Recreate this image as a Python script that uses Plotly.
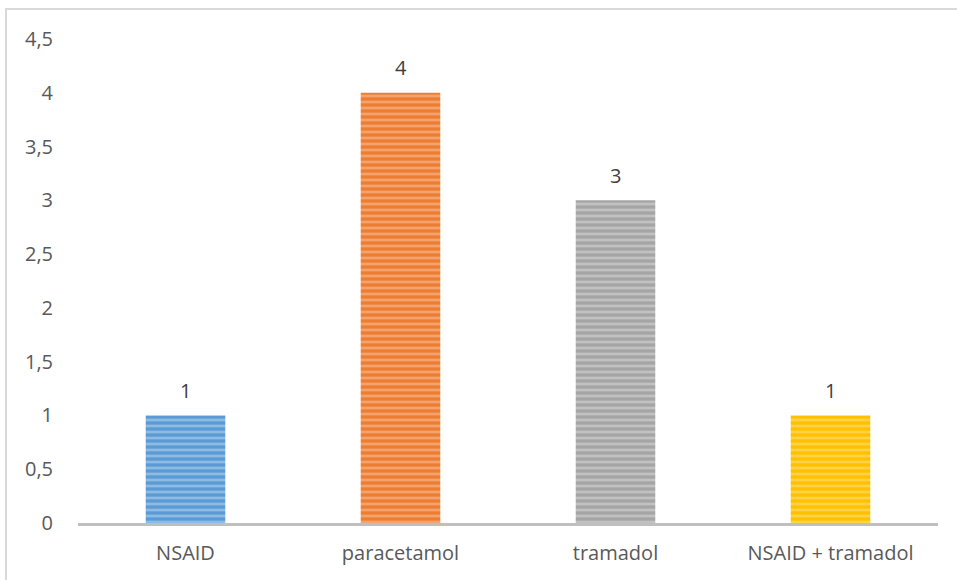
import plotly.graph_objects as go

categories = ["NSAID", "paracetamol", "tramadol", "NSAID + tramadol"]
counts = [1, 4, 3, 1]
base_colors = ["#5B9BD5", "#ED7D31", "#A5A5A5", "#FFC000"]
stripe_colors = ["#C2DAF1", "#F9CBAB", "#DEDEDE", "#FFE491"]

fig = go.Figure()
# one trace per drug so each bar gets its own striped fill
for cat, val, base, stripe in zip(categories, counts, base_colors, stripe_colors):
    fig.add_trace(go.Bar(
        x=[cat],
        y=[val],
        marker=dict(
            color=base,
            line=dict(width=0),
            pattern=dict(
                shape="-",
                fgcolor=stripe,
                fillmode="overlay",
                size=6,
                solidity=0.45,
            ),
        ),
    ))

# value labels above each bar
for cat, val in zip(categories, counts):
    fig.add_annotation(
        x=cat, y=val, text=str(val),
        showarrow=False, yanchor="middle", yshift=25,
        font=dict(family="Open Sans", size=20, color="#404040"),
    )

fig.update_layout(
    width=957,
    height=580,
    margin=dict(l=78, r=19, t=39, b=57),
    paper_bgcolor="white",
    plot_bgcolor="white",
    separators=", ",
    bargap=0.63,
    barmode="overlay",
    showlegend=False,
    font=dict(family="Open Sans", size=20, color="#595959"),
    xaxis=dict(
        showgrid=False,
        showline=True,
        linecolor="#BFBFBF",
        linewidth=3,
        ticks="outside",
        ticklen=10,
        tickcolor="rgba(0,0,0,0)",
        tickfont=dict(family="Open Sans", size=20, color="#595959"),
        fixedrange=True,
    ),
    yaxis=dict(
        range=[0, 4.5],
        dtick=0.5,
        showgrid=False,
        zeroline=False,
        showline=False,
        ticks="outside",
        ticklen=20,
        tickcolor="rgba(0,0,0,0)",
        tickfont=dict(family="Open Sans", size=20, color="#595959"),
        fixedrange=True,
    ),
    shapes=[dict(
        type="rect", xref="paper", yref="paper",
        x0=-72 / 860, x1=1.05, y0=-0.2, y1=1 + 30 / 484,
        line=dict(color="#D9D9D9", width=2),
        fillcolor="rgba(0,0,0,0)",
        layer="below",
    )],
)

fig.write_html("out.html")
